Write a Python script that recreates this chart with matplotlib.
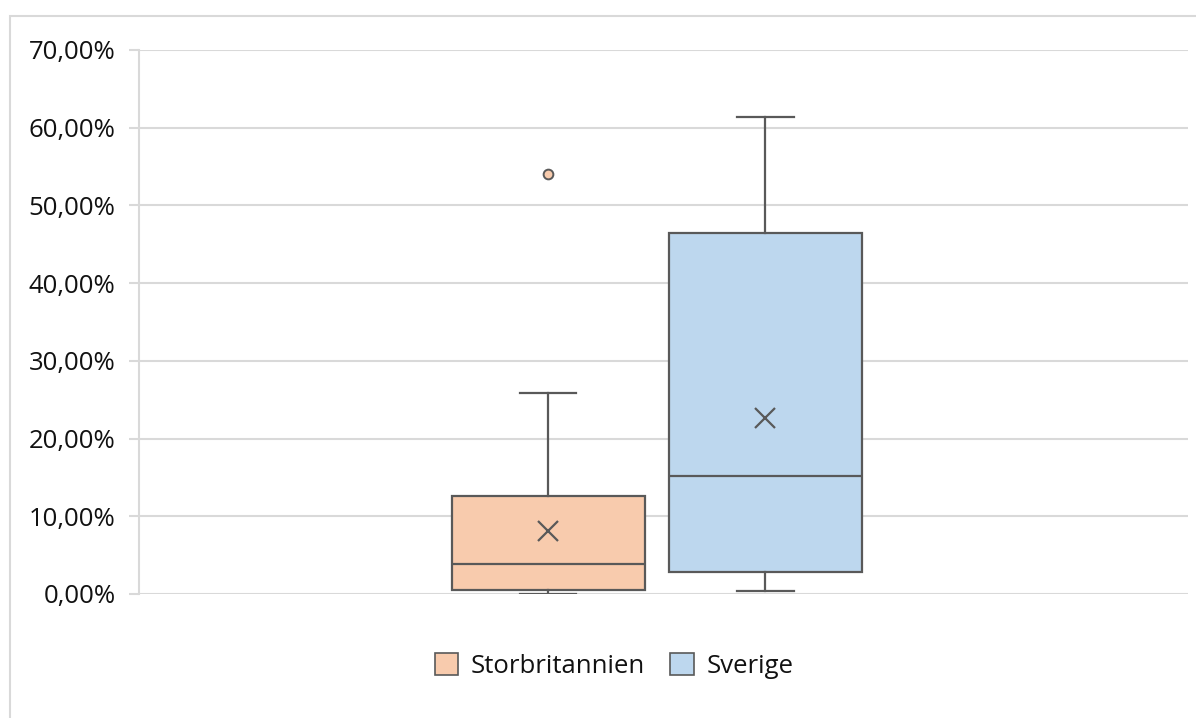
#!/usr/bin/env python3
"""
Box plot of shares for Storbritannien and Sverige (Excel-style look).
"""

import matplotlib
matplotlib.use("Agg")
import matplotlib.pyplot as plt
from matplotlib.patches import Rectangle, Patch
from matplotlib.ticker import FuncFormatter

# summary statistics, in percent
series = ["Storbritannien", "Sverige"]
whisker_low = [0.0, 0.4]
q1 = [0.5, 2.8]
median = [3.9, 15.2]
q3 = [12.6, 46.5]
whisker_high = [25.9, 61.4]
mean = [8.1, 22.7]
outliers = [[54.0], []]

colors = ["#F8CBAD", "#BDD7EE"]
edge = "#595959"
grid_col = "#D9D9D9"

plt.rcParams["font.family"] = ["Open Sans", "DejaVu Sans"]

fig = plt.figure(figsize=(11.96, 7.18), dpi=100)
W, H = 1196, 718

# outer chart frame
fig.patches.append(Rectangle((10 / W, -0.1), 1.2, (H - 16) / H + 0.1,
                             transform=fig.transFigure, fill=False,
                             edgecolor=grid_col, linewidth=1.5, zorder=0))

ax = fig.add_axes([139 / W, (H - 594) / H, (1188 - 139) / W, (594 - 50) / H])

stats = []
for i, name in enumerate(series):
    stats.append(dict(label=name, whislo=whisker_low[i], q1=q1[i],
                      med=median[i], q3=q3[i], whishi=whisker_high[i],
                      mean=mean[i], fliers=outliers[i]))

positions = [0.390, 0.597]
for i, st in enumerate(stats):
    ax.bxp([st], positions=[positions[i]], widths=0.184, capwidths=0.054,
           patch_artist=True, showmeans=True, showfliers=True,
           boxprops=dict(facecolor=colors[i], edgecolor=edge, linewidth=1.6),
           medianprops=dict(color=edge, linewidth=1.6),
           whiskerprops=dict(color=edge, linewidth=1.6),
           capprops=dict(color=edge, linewidth=1.6),
           meanprops=dict(marker="x", markeredgecolor=edge, markersize=15,
                          markeredgewidth=1.6),
           flierprops=dict(marker="o", markerfacecolor=colors[i],
                           markeredgecolor=edge, markersize=7,
                           markeredgewidth=1.4),
           manage_ticks=False)

ax.set_xlim(0, 1)
ax.set_ylim(0, 70)
ax.set_yticks(range(0, 71, 10))
ax.yaxis.set_major_formatter(FuncFormatter(lambda v, p: f"{v:.2f}%".replace(".", ",")))
ax.set_xticks([])

ax.grid(axis="y", color=grid_col, linewidth=1.5)
ax.set_axisbelow(True)
for s in ["top", "right", "bottom"]:
    ax.spines[s].set_visible(False)
ax.spines["left"].set_color(grid_col)
ax.spines["left"].set_linewidth(1.5)
ax.tick_params(axis="y", length=7.5, width=1.5, color=grid_col,
               labelsize=18.5, labelcolor="#111111", pad=9.5)

handles = [Patch(facecolor=colors[i], edgecolor=edge, linewidth=1.2, label=series[i])
           for i in range(len(series))]
fig.legend(handles=handles, loc="center", bbox_to_anchor=(614 / W, (H - 666) / H),
           ncol=2, frameon=False, fontsize=18.5, labelcolor="#111111",
           handlelength=0.9, handleheight=0.9,
           handletextpad=0.5, columnspacing=1.0)

fig.savefig("out.png", dpi=100)
